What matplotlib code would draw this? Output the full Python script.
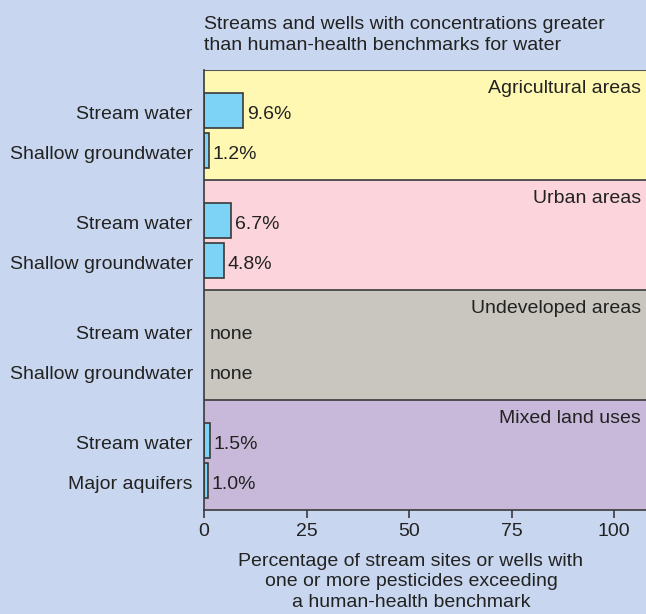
import matplotlib.pyplot as plt

# data
areas = ["Agricultural areas", "Urban areas", "Undeveloped areas", "Mixed land uses"]
area_colors = ["#fff8b2", "#fbd4dc", "#c9c6bf", "#c8b9da"]
row_labels = [["Stream water", "Shallow groundwater"],
              ["Stream water", "Shallow groundwater"],
              ["Stream water", "Shallow groundwater"],
              ["Stream water", "Major aquifers"]]
values = [[9.6, 1.2], [6.7, 4.8], [None, None], [1.5, 1.0]]
title_lines = ["Streams and wells with concentrations greater",
               "than human-health benchmarks for water"]
xlabel_lines = ["Percentage of stream sites or wells with",
                "one or more pesticides exceeding",
                "a human-health benchmark"]

bg = "#c8d7ef"
bar_color = "#7dd3f5"
edge = "#3a3a3a"
txt = "#222222"
fs = 14

plt.rcParams['font.family'] = ['Liberation Sans', 'DejaVu Sans']

W, H = 646, 614
fig = plt.figure(figsize=(W / 100, H / 100), dpi=100, facecolor=bg)
ax = fig.add_axes([204 / W, 1 - 510 / H, 1 - 204 / W, 440 / H])
ax.set_xlim(0, 107.8)
ax.set_ylim(4, 0)

row_pos = [0.369, 0.73]
for i, area in enumerate(areas):
    ax.axhspan(i, i + 1, color=area_colors[i], zorder=0)
    if i > 0:
        ax.axhline(i, color=edge, lw=1.2, zorder=1)
    ax.text(106.5, i + 0.208, area, ha="right", va="baseline", fontsize=fs, color=txt)
    for j in range(2):
        y = i + row_pos[j]
        v = values[i][j]
        ax.text(-2.7, y + 0.077, row_labels[i][j], ha="right", va="baseline",
                fontsize=fs, color=txt, clip_on=False)
        if v is None:
            ax.text(1.5, y + 0.077, "none", ha="left", va="baseline", fontsize=fs, color=txt)
        else:
            ax.barh(y, v, height=0.316, color=bar_color, edgecolor=edge, lw=1.2, zorder=2)
            ax.text(v + 0.9, y + 0.077, f"{v:.1f}%", ha="left", va="baseline",
                    fontsize=fs, color=txt)

ax.axhline(0, color="#555555", lw=1.5, zorder=1)
for s in ["top", "right"]:
    ax.spines[s].set_visible(False)
for s in ["left", "bottom"]:
    ax.spines[s].set_color(edge)
    ax.spines[s].set_linewidth(1.2)
ax.set_yticks([])
ax.set_xticks([0, 25, 50, 75, 100])
ax.tick_params(axis="x", direction="out", length=6, width=1.2, color=edge,
               labelsize=fs, labelcolor=txt, pad=3)

for k, line in enumerate(title_lines):
    fig.text(204 / W, 1 - (29 + 21 * k) / H, line, ha="left", va="baseline",
             fontsize=fs, color=txt)
for k, line in enumerate(xlabel_lines):
    fig.text(411 / W, 1 - (566 + 20.5 * k) / H, line, ha="center", va="baseline",
             fontsize=fs, color=txt)

fig.savefig("out.png", dpi=100, facecolor=bg)
